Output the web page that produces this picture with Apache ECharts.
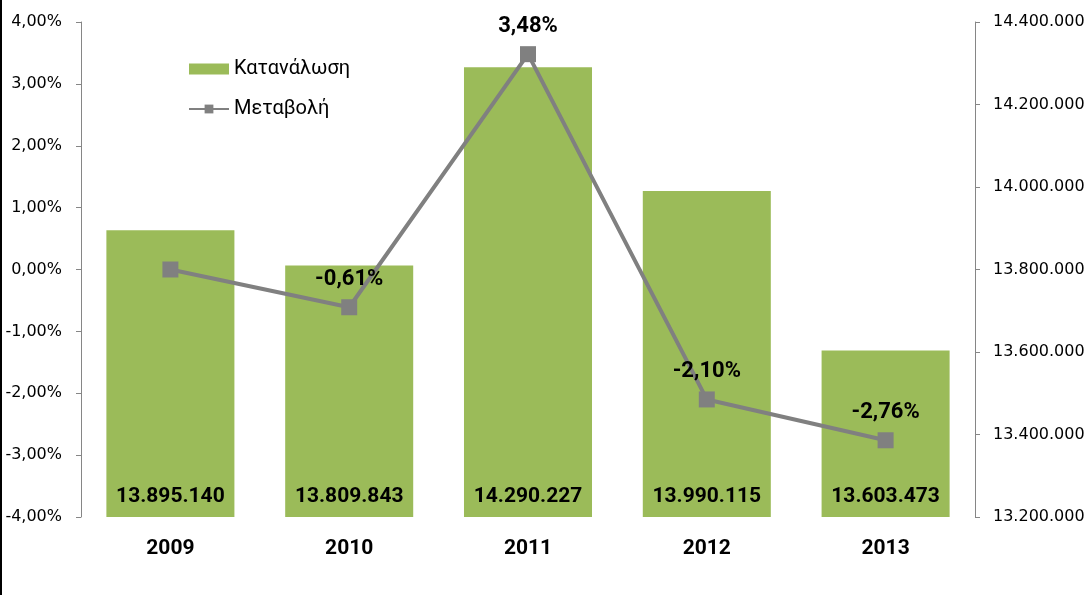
<!DOCTYPE html>
<html>
<head>
<meta charset="utf-8">
<script src="https://cdn.jsdelivr.net/npm/echarts@6/dist/echarts.min.js"></script>
<style>
html,body{margin:0;padding:0;background:#fff;}
#c{width:1091px;height:595px;}
</style>
</head>
<body>
<div id="c"></div>
<script>
const categories = ['2009', '2010', '2011', '2012', '2013'];
const consumption = [13895140, 13809843, 14290227, 13990115, 13603473];
const change = [0.00, -0.61, 3.48, -2.10, -2.76];
const seriesNames = ['Κατανάλωση', 'Μεταβολή'];

function fmtThousands(v) {
  return String(Math.round(v)).replace(/\B(?=(\d{3})+(?!\d))/g, '.');
}
function fmtPct(v) {
  return v.toFixed(2).replace('.', ',') + '%';
}

const chart = echarts.init(document.getElementById('c'), null, {renderer: 'canvas'});
const axisColor = '#868686';
chart.setOption({
  animation: false,
  graphic: [{type: 'rect', left: 0, top: 0, shape: {width: 2, height: 595}, style: {fill: '#000'}}],
  grid: {left: 81, right: 116, top: 22, bottom: 78},
  legend: {
    orient: 'vertical', left: 183, top: 54, itemWidth: 40, itemHeight: 11, itemGap: 20,
    textStyle: {fontFamily: 'Roboto', fontSize: 20, color: '#000'},
    data: [{name: seriesNames[0], icon: 'rect'}, {name: seriesNames[1]}]
  },
  xAxis: {
    type: 'category', data: categories,
    axisLine: {show: false}, axisTick: {show: false},
    axisLabel: {margin: 21, fontFamily: 'Roboto', fontWeight: 'bold', fontSize: 21, color: '#000'}
  },
  yAxis: [{
    type: 'value', min: -4, max: 4, interval: 1, position: 'left',
    splitLine: {show: false},
    axisLine: {show: true, lineStyle: {color: axisColor}},
    axisTick: {show: true, length: 5, lineStyle: {color: axisColor}},
    axisLabel: {margin: 19, fontFamily: 'DejaVu Sans', fontSize: 16, color: '#000', formatter: fmtPct}
  }, {
    type: 'value', min: 13200000, max: 14400000, interval: 200000, position: 'right',
    splitLine: {show: false},
    axisLine: {show: true, lineStyle: {color: axisColor}},
    axisTick: {show: true, length: 5, lineStyle: {color: axisColor}},
    axisLabel: {margin: 18, fontFamily: 'DejaVu Sans', fontSize: 16, color: '#000', formatter: fmtThousands}
  }],
  series: [{
    name: seriesNames[0], type: 'bar', yAxisIndex: 1, data: consumption,
    barWidth: '71.6%',
    itemStyle: {color: '#9BBB59'},
    label: {show: true, position: 'insideBottom', distance: 10,
      fontFamily: 'Roboto', fontWeight: 'bold', fontSize: 21, color: '#000',
      formatter: p => fmtThousands(p.value)}
  }, {
    name: seriesNames[1], type: 'line', yAxisIndex: 0, data: change,
    symbol: 'rect', symbolSize: 16,
    lineStyle: {color: '#808080', width: 4},
    itemStyle: {color: '#808080'},
    label: {show: true, position: 'top', distance: 9,
      fontFamily: 'Roboto', fontWeight: 'bold', fontSize: 22, color: '#000',
      formatter: p => p.dataIndex === 0 ? '' : fmtPct(p.value)}
  }]
});
</script>
</body>
</html>
